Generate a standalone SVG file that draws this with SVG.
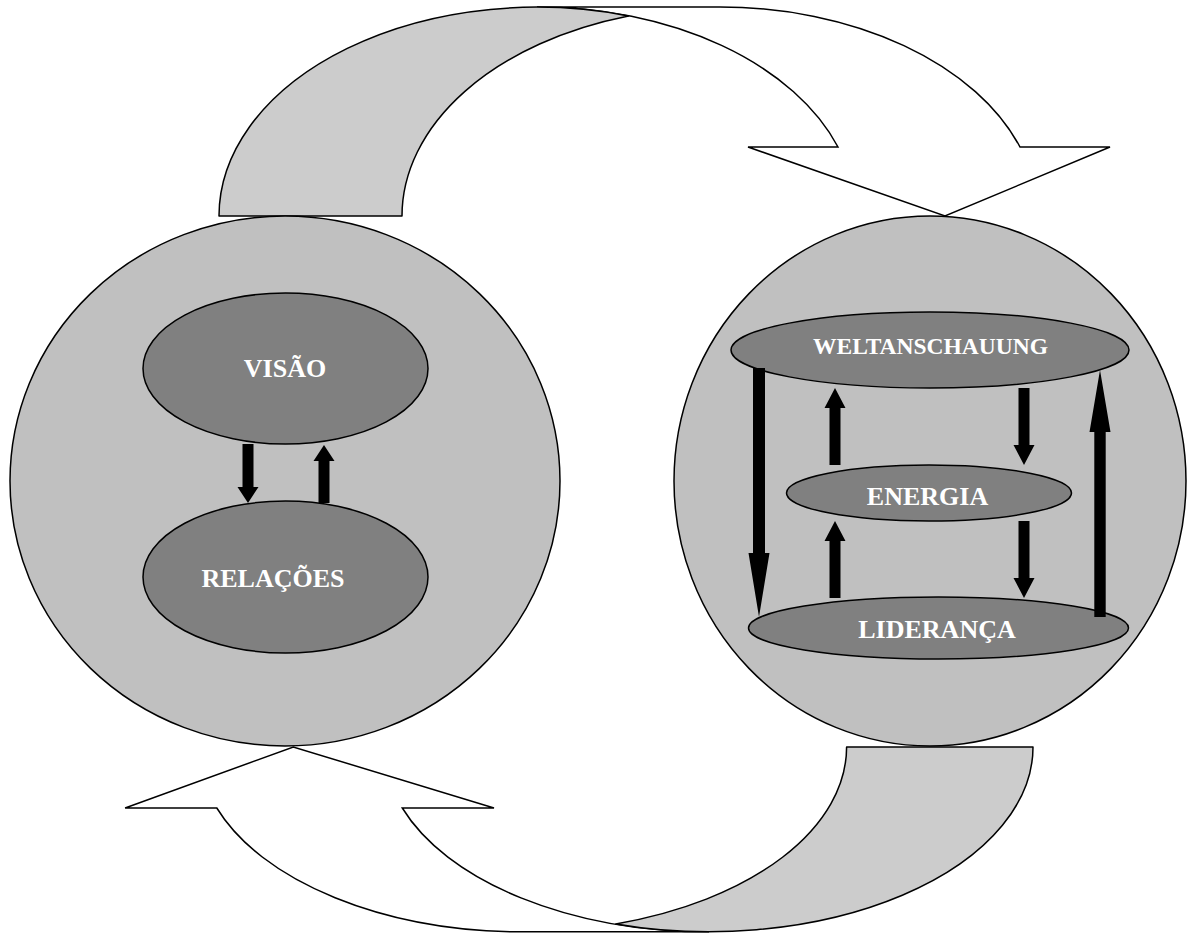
<svg xmlns="http://www.w3.org/2000/svg" width="1188" height="933" viewBox="0 0 1188 933">
<style>
.band{fill:#CCCCCC;stroke:#000;stroke-width:1.5;stroke-linejoin:round}
.front{fill:#FFFFFF;stroke:#000;stroke-width:1.5;stroke-linejoin:miter}
.big{fill:#C0C0C0;stroke:#000;stroke-width:1.5}
.inner{fill:#808080;stroke:#000;stroke-width:1.5}
.lbl{font-family:"Liberation Serif","Times New Roman",serif;font-weight:bold;fill:#FFFFFF;text-anchor:middle}
.arr{fill:#000;stroke:none}
</style>
<g id="cycle-arrows">
  <g id="arrow-top">
    <path class="front" d="M 537 7 L 720 7 A 318 209 0 0 1 1020 147 L 1110 147 L 945 216 L 748 147 L 838 147 A 318 209 0 0 0 537 7 Z"/>
    <path class="band" d="M 219 216 A 318 209 0 0 1 628.5 16 A 318 209 0 0 0 402 216 Z"/>
  </g>
  <g id="arrow-bottom">
    <path class="front" d="M 709 931.8 L 522.5 931.8 A 324 184.8 0 0 1 216.8 808 L 125.1 808 L 293.3 747 L 494 808 L 402.3 808 A 324 184.8 0 0 0 709 931.8 Z"/>
    <path class="band" d="M 1033 747 A 324 184.8 0 0 1 615.8 923.9 A 324 184.8 0 0 0 846.6 747 Z"/>
  </g>
</g>
<g id="circle-left">
  <ellipse class="big" cx="285" cy="481" rx="275" ry="265"/>
</g>
<g id="circle-right">
  <ellipse class="big" cx="930" cy="481" rx="256" ry="265"/>
</g>
<g id="node-visao">
  <ellipse class="inner" cx="285.5" cy="368.5" rx="142.5" ry="75.5"/>
  <text class="lbl" x="285" y="377" font-size="26">VISÃO</text>
</g>
<g id="node-relacoes">
  <ellipse class="inner" cx="285.5" cy="577" rx="142.5" ry="76"/>
  <text class="lbl" x="273" y="587" font-size="26">RELAÇÕES</text>
</g>
<g id="node-weltanschauung">
  <ellipse class="inner" cx="930" cy="350" rx="199" ry="38"/>
  <text class="lbl" x="930.5" y="354" font-size="23.5">WELTANSCHAUUNG</text>
</g>
<g id="node-energia">
  <ellipse class="inner" cx="929" cy="493" rx="142.5" ry="28"/>
  <text class="lbl" x="927.5" y="505" font-size="26">ENERGIA</text>
</g>
<g id="node-lideranca">
  <ellipse class="inner" cx="938.5" cy="628" rx="190" ry="31"/>
  <text class="lbl" x="937" y="638" font-size="26">LIDERANÇA</text>
</g>
<g id="connectors">
  <polygon class="arr" points="242.5,444 253.5,444 253.5,487 258.5,487 248,503 237.5,487 242.5,487"/>
  <polygon class="arr" points="324,445 334.5,461 329.5,461 329.5,503 318.5,503 318.5,461 313.5,461"/>
  <polygon class="arr" points="753,368 765,368 765,553 769.5,553 759,617 748.5,553 753,553"/>
  <polygon class="arr" points="1100,370 1110.5,432 1105.7,432 1105.7,617 1094.3,617 1094.3,432 1089.5,432"/>
  <polygon class="arr" points="835,388 845.5,408 840.5,408 840.5,465 829.5,465 829.5,408 824.5,408"/>
  <polygon class="arr" points="1018.5,388 1029.5,388 1029.5,445 1034.5,445 1024,465 1013.5,445 1018.5,445"/>
  <polygon class="arr" points="835,521 845.5,541 840.5,541 840.5,598 829.5,598 829.5,541 824.5,541"/>
  <polygon class="arr" points="1018.5,521 1029.5,521 1029.5,578 1034.5,578 1024,598 1013.5,578 1018.5,578"/>
</g>
</svg>
